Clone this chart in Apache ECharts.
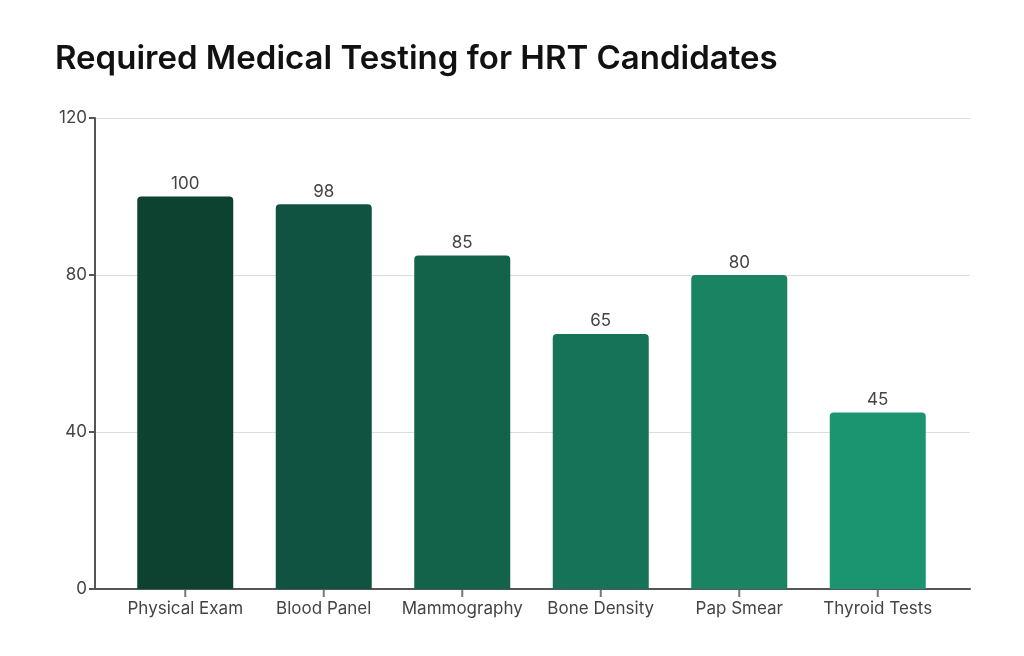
<!DOCTYPE html>
<html>
<head>
<meta charset="utf-8">
<script src="https://cdn.jsdelivr.net/npm/echarts@6/dist/echarts.min.js"></script>
<style>html,body{margin:0;padding:0;background:#fff;}#c{width:1024px;height:656px;}</style>
</head>
<body>
<div id="c"></div>
<script>
const title = 'Required Medical Testing for HRT Candidates';
const categories = ['Physical Exam', 'Blood Panel', 'Mammography', 'Bone Density', 'Pap Smear', 'Thyroid Tests'];
const values = [100, 98, 85, 65, 80, 45];
const barColors = ['#0d4230', '#105340', '#13624a', '#167357', '#1a8462', '#1b9570'];
const yTicks = [0, 40, 80, 120];

const outer = {left: 95, right: 54};
const inner = {left: 116, right: 77};

const chart = echarts.init(document.getElementById('c'), null, {renderer: 'canvas'});
const font = 'Inter, "Noto Sans", sans-serif';
chart.setOption({
  animation: false,
  backgroundColor: '#ffffff',
  title: {
    text: title, left: 50, top: 38,
    textStyle: {fontFamily: font, fontSize: 33, fontWeight: 600, color: '#111'}
  },
  grid: [
    {left: outer.left, right: outer.right, top: 118, bottom: 67},
    {left: inner.left, right: inner.right, top: 118, bottom: 67}
  ],
  xAxis: [
    {type: 'value', gridIndex: 0, position: 'bottom', min: 0, max: 1,
     axisLine: {show: true, onZero: false, lineStyle: {color: '#555', width: 2}},
     axisTick: {show: false}, axisLabel: {show: false}, splitLine: {show: false}},
    {type: 'category', gridIndex: 1, position: 'bottom', data: categories,
     axisLine: {show: false, onZero: false},
     axisTick: {show: false},
     axisLabel: {interval: 0, fontFamily: font, fontSize: 17, color: '#444', margin: 11}}
  ],
  yAxis: [
    {type: 'value', gridIndex: 0, position: 'left', min: 0, max: yTicks[yTicks.length - 1], interval: 40,
     axisLine: {show: true, onZero: false, lineStyle: {color: '#555', width: 2}},
     axisTick: {show: true, length: 6, lineStyle: {color: '#555', width: 2}},
     axisLabel: {fontFamily: font, fontSize: 17, color: '#444', margin: 8},
     splitLine: {show: true, lineStyle: {color: '#dddddd', width: 1}}},
    {type: 'value', gridIndex: 1, min: 0, max: 120, show: false, splitLine: {show: false}}
  ],
  series: [{
    type: 'bar', xAxisIndex: 1, yAxisIndex: 1,
    data: values.map((v, i) => ({value: v, itemStyle: {color: barColors[i]}})),
    barWidth: 96,
    itemStyle: {borderRadius: [4, 4, 0, 0]},
    label: {show: true, position: 'top', distance: 4, fontFamily: font, fontSize: 17, color: '#444'}
  }, {
    // category tick marks below the x axis line
    type: 'scatter', xAxisIndex: 1, yAxisIndex: 1, silent: true, clip: false, z: 5,
    data: categories.map(c => [c, 0]),
    symbol: 'rect', symbolSize: [2, 7], symbolOffset: [0, 4.5],
    itemStyle: {color: '#555'}
  }]
});
</script>
</body>
</html>
